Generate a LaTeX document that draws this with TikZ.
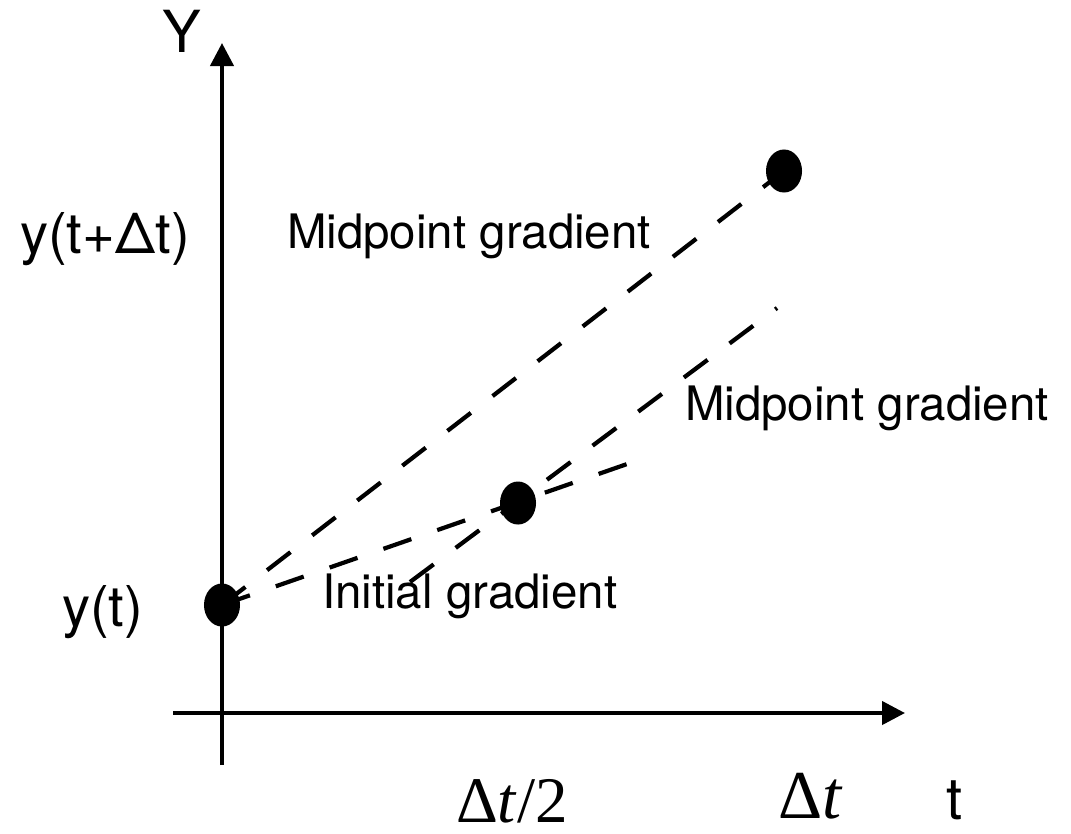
\documentclass[tikz,border=0pt]{standalone}
\usepackage{fontspec}
\setmainfont{TeX Gyre Heros}
\newfontfamily\tnr{Liberation Serif}
\usetikzlibrary{arrows.meta,shapes.geometric}
\tikzset{
  axis/.style={line width=1.2pt,-{Triangle[width=0.23cm,length=0.23cm]}},
  dashline/.style={line width=1.2pt,dash pattern=on 8.4pt off 7.8pt},
  dot/.style={ellipse,fill=black,draw=none,minimum width=0.36cm,minimum height=0.43cm,inner sep=0pt},
  lbl/.style={anchor=base west,inner sep=0pt,outer sep=0pt},
  big/.style={font=\fontsize{16}{18}\selectfont},
  mid/.style={font=\fontsize{13.5}{15}\selectfont},
}
\begin{document}
\begin{tikzpicture}[x=0.01cm,y=-0.01cm]
\useasboundingbox (0,0) rectangle (1071,833);
% axes
\coordinate (ybot) at (222,765);
\coordinate (ytop) at (222,43);
\coordinate (xl) at (173,713);
\coordinate (xr) at (905,713);
\draw[axis] (ybot) -- (ytop);
\draw[axis] (xl) -- (xr);
% points
\coordinate (p0) at (222,605);
\coordinate (p1) at (518,503);
\coordinate (p2) at (784,171);
\coordinate (ie) at (630,463);
\coordinate (ms) at (410,582);
\coordinate (me) at (777,308);
% dashed lines
\draw[dashline] (p0) -- (p2);
\draw[dashline] (p0) -- (ie);
\draw[dashline] (ms) -- (me);
% dots
\node[dot] (d0) at (p0) {};
\node[dot] (d1) at (p1) {};
\node[dot] (d2) at (p2) {};
% labels
\node[lbl,font=\fontsize{16.5}{18}\selectfont] (Y) at (162,52) {Y};
\node[lbl,big] (ytdt) at (20,253) {y(t+Δt)};
\node[lbl,big] (yt) at (62,626) {y(t)};
\node[lbl,mid] (mg1) at (287,248) {Midpoint gradient};
\node[lbl,mid] (mg2) at (685,420) {Midpoint gradient};
\node[lbl,mid] (ig) at (322,608) {Initial gradient};
\node[lbl,font=\fontsize{18.5}{21}\tnr] (dt2) at (456,822) {Δ\textit{t}/2};
\node[lbl,font=\fontsize{19.5}{21}\tnr] (dt) at (778,818) {Δ\textit{t}};
\node[lbl,font=\fontsize{16.5}{18}\selectfont] (t) at (946,819) {t};
\end{tikzpicture}
\end{document}
